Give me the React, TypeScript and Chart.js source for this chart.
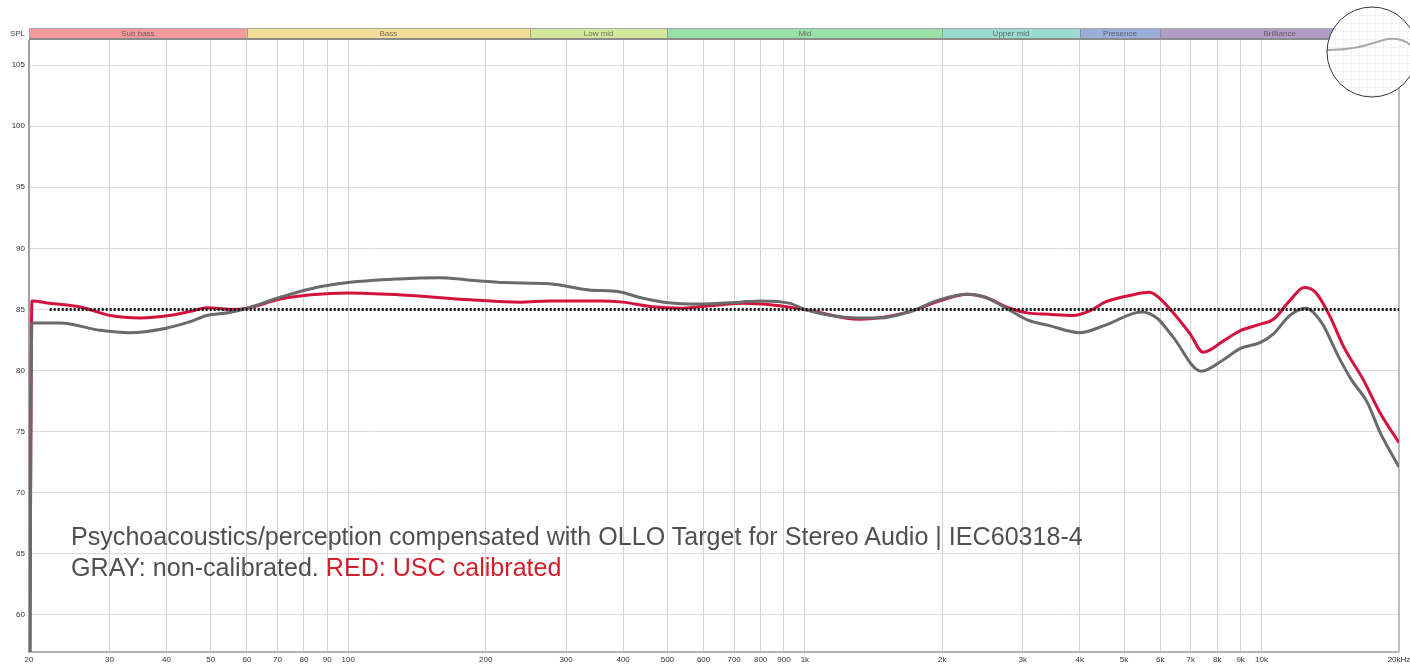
import React, { useEffect, useRef } from 'react';
import { Chart, registerables } from 'chart.js';
Chart.register(...registerables);

// ---- Data ----
const grayFreq = [20, 20.3, 23.4, 28.6, 33.2, 39.7, 45.1, 49, 55, 60, 71, 82.9, 100, 129, 158, 185, 221, 276, 337, 392, 433, 503, 586, 722, 797, 929, 1000, 1316, 1457, 1692, 1975, 2267, 2483, 2808, 3090, 3414, 4000, 4540, 5463, 5900, 6385, 7380, 8270, 8970, 9950, 10620, 11520, 12500, 13550, 14710, 15700, 17040, 18200, 20000];
const grayDb = [40, 83.9, 83.9, 83.3, 83.1, 83.45, 84.0, 84.5, 84.75, 85.1, 86.0, 86.7, 87.2, 87.5, 87.6, 87.4, 87.2, 87.1, 86.6, 86.45, 86.0, 85.55, 85.45, 85.6, 85.7, 85.5, 85.0, 84.3, 84.3, 84.8, 85.8, 86.25, 86.0, 84.95, 84.1, 83.7, 83.1, 83.7, 84.8, 84.3, 82.8, 79.95, 80.9, 81.8, 82.3, 83.0, 84.5, 85.1, 83.9, 81.2, 79.3, 77.4, 74.9, 72.1];

const redFreq = [20, 20.3, 22.2, 25.9, 30.1, 35.0, 40.6, 45.8, 49, 55.9, 60, 71, 82.9, 100, 129, 185, 238, 276, 359, 399, 458, 541, 617, 729, 858, 1000, 1316, 1692, 1975, 2267, 2483, 2808, 3090, 3414, 3868, 4216, 4540, 5230, 5675, 5900, 6385, 6963, 7450, 8270, 8970, 9950, 10620, 11520, 12400, 13130, 14050, 15200, 16620, 18200, 20000];
const redDb = [40, 85.7, 85.5, 85.2, 84.5, 84.3, 84.5, 84.9, 85.15, 85.0, 85.1, 85.85, 86.2, 86.35, 86.2, 85.8, 85.6, 85.7, 85.7, 85.6, 85.25, 85.1, 85.3, 85.5, 85.35, 85.0, 84.2, 84.8, 85.7, 86.25, 86.0, 85.1, 84.7, 84.6, 84.5, 84.9, 85.6, 86.2, 86.4, 86.1, 84.8, 83.05, 81.5, 82.45, 83.25, 83.8, 84.2, 85.7, 86.8, 86.4, 84.6, 81.8, 79.4, 76.5, 74.1];

const targetFreq = [22.2, 20000];
const targetDb = [85, 85];

const xTicks = [20, 30, 40, 50, 60, 70, 80, 90, 100, 200, 300, 400, 500, 600, 700, 800, 900, 1000, 2000, 3000, 4000, 5000, 6000, 7000, 8000, 9000, 10000, 20000];
const xTickLabels = ['20', '30', '40', '50', '60', '70', '80', '90', '100', '200', '300', '400', '500', '600', '700', '800', '900', '1k', '2k', '3k', '4k', '5k', '6k', '7k', '8k', '9k', '10k', '20kHz'];
const yTicks = [60, 65, 70, 75, 80, 85, 90, 95, 100, 105];

const bandEdges = [20, 60, 250, 500, 2000, 4000, 6000, 20000];
const bandNames = ['Sub bass', 'Bass', 'Low mid', 'Mid', 'Upper mid', 'Presence', 'Brilliance'];
const bandColors = ['#f59a9c', '#f4dd98', '#d4e89b', '#99e0a6', '#9adccf', '#9aaed8', '#b09cc7'];

const toPoints = (f: number[], v: number[]) => f.map((x, i) => ({ x, y: v[i] }));

const framePlugin = {
  id: 'frame',
  beforeDraw(chart: any) {
    const { ctx } = chart;
    ctx.save();
    ctx.fillStyle = '#ffffff';
    ctx.fillRect(0, 0, chart.width, chart.height);
    ctx.restore();
  },
  beforeDatasetsDraw(chart: any) {
    const { ctx, chartArea: a, scales } = chart;
    const xs = scales.x;
    ctx.save();
    // band strip
    const top = a.top - 11;
    const h = 9;
    ctx.font = '8px "Liberation Sans", Arial, sans-serif';
    ctx.textAlign = 'center';
    ctx.textBaseline = 'middle';
    for (let i = 0; i < bandNames.length; i++) {
      const x0 = xs.getPixelForValue(bandEdges[i]);
      const x1 = xs.getPixelForValue(bandEdges[i + 1]);
      ctx.fillStyle = bandColors[i];
      ctx.fillRect(x0, top, x1 - x0, h);
      ctx.strokeStyle = 'rgba(120,120,120,0.6)';
      ctx.lineWidth = 1;
      ctx.beginPath();
      ctx.moveTo(Math.round(x0) + 0.5, top);
      ctx.lineTo(Math.round(x0) + 0.5, top + h);
      ctx.stroke();
      ctx.fillStyle = 'rgba(70,70,70,0.75)';
      ctx.fillText(bandNames[i], (x0 + x1) / 2, top + h / 2 + 0.5);
    }
    ctx.strokeStyle = '#a8a8a8';
    ctx.lineWidth = 1;
    ctx.strokeRect(a.left + 0.5, top - 0.5, a.right - a.left, h + 1);
    // line under strip
    ctx.fillStyle = '#8c8c8c';
    ctx.fillRect(a.left, a.top - 2, a.right - a.left, 2);
    // SPL label
    ctx.fillStyle = '#444';
    ctx.textAlign = 'right';
    ctx.fillText('SPL', a.left - 4, top + h / 2);
    // plot frame
    ctx.fillStyle = '#a0a0a0';
    ctx.fillRect(a.left - 1, a.top, 2, a.bottom - a.top + 1);
    ctx.fillStyle = '#b4b4b4';
    ctx.fillRect(a.left, a.bottom - 1, a.right - a.left, 2);
    ctx.fillStyle = '#bdbdbd';
    ctx.fillRect(a.right - 1, a.top, 2, a.bottom - a.top);
    ctx.restore();
  },
  afterDraw(chart: any) {
    const { ctx } = chart;
    const cx = 1372, cy = 52, r = 45;
    ctx.save();
    ctx.beginPath();
    ctx.arc(cx, cy, r, 0, Math.PI * 2);
    ctx.fillStyle = '#ffffff';
    ctx.fill();
    ctx.save();
    ctx.clip();
    ctx.strokeStyle = '#f2f2f2';
    ctx.lineWidth = 1;
    for (let gx = cx - r; gx <= cx + r; gx += 8) {
      ctx.beginPath(); ctx.moveTo(Math.round(gx) + 0.5, cy - r); ctx.lineTo(Math.round(gx) + 0.5, cy + r); ctx.stroke();
    }
    for (let gy = cy - r; gy <= cy + r; gy += 8) {
      ctx.beginPath(); ctx.moveTo(cx - r, Math.round(gy) + 0.5); ctx.lineTo(cx + r, Math.round(gy) + 0.5); ctx.stroke();
    }
    ctx.strokeStyle = '#a9a9a9';
    ctx.lineWidth = 2;
    ctx.beginPath();
    ctx.moveTo(cx - r, cy - 2);
    ctx.bezierCurveTo(cx - 20, cy - 2, cx - 8, cy - 6, cx + 8, cy - 11);
    ctx.bezierCurveTo(cx + 20, cy - 15, cx + 30, cy - 14, cx + 40, cy - 6);
    ctx.stroke();
    ctx.restore();
    ctx.beginPath();
    ctx.arc(cx, cy, r, 0, Math.PI * 2);
    ctx.strokeStyle = '#333';
    ctx.lineWidth = 1;
    ctx.stroke();
    ctx.restore();
  },
};

export default function App() {
  const ref = useRef<HTMLCanvasElement | null>(null);

  useEffect(() => {
    const prevMargin = document.body.style.margin;
    document.body.style.margin = '0';
    const canvas = ref.current!;
    const tickFont = { family: '"Liberation Sans", Arial, sans-serif', size: 8 };
    const chart = new Chart(canvas, {
      type: 'line',
      data: {
        datasets: [
          {
            label: 'Target',
            data: toPoints(targetFreq, targetDb),
            borderColor: '#111111',
            borderWidth: 3,
            borderDash: [2, 2],
            pointRadius: 0,
            tension: 0,
          },
          {
            label: 'Non-calibrated',
            data: toPoints(grayFreq, grayDb),
            borderColor: '#6a6a6a',
            borderWidth: 3,
            pointRadius: 0,
            cubicInterpolationMode: 'monotone',
          },
          {
            label: 'USC calibrated',
            data: toPoints(redFreq, redDb),
            borderColor: '#d3123d',
            borderWidth: 3,
            pointRadius: 0,
            cubicInterpolationMode: 'monotone',
          },
        ],
      } as any,
      options: {
        responsive: false,
        animation: false,
        devicePixelRatio: 1,
        layout: { padding: { top: 40, right: 11, left: 0, bottom: 0 } },
        plugins: { legend: { display: false }, tooltip: { enabled: false }, title: { display: false } },
        scales: {
          x: {
            type: 'logarithmic',
            min: 20,
            max: 20000,
            afterBuildTicks: (s: any) => { s.ticks = xTicks.map((v) => ({ value: v })); },
            afterFit: (s: any) => { s.height = 12; s.paddingLeft = 0; s.paddingRight = 0; },
            ticks: {
              autoSkip: false,
              maxRotation: 0,
              minRotation: 0,
              padding: 3,
              color: '#333',
              font: tickFont,
              callback: (v: any) => xTickLabels[xTicks.indexOf(Number(v))] ?? '',
            },
            grid: { color: '#d2d2d2', lineWidth: 1, drawTicks: false },
            border: { display: false },
          },
          y: {
            type: 'linear',
            min: 56.97,
            max: 107.05,
            afterBuildTicks: (s: any) => { s.ticks = yTicks.map((v) => ({ value: v })); },
            afterFit: (s: any) => { s.width = 29; s.paddingTop = 0; s.paddingBottom = 0; },
            ticks: { padding: 4, color: '#333', font: tickFont, callback: (v: any) => String(v) },
            grid: { color: '#dcdcdc', lineWidth: 1, drawTicks: false },
            border: { display: false },
          },
        },
      } as any,
      plugins: [framePlugin],
    });
    return () => {
      chart.destroy();
      document.body.style.margin = prevMargin;
    };
  }, []);

  const textStyle: React.CSSProperties = {
    position: 'absolute',
    left: 71,
    fontFamily: '"Liberation Sans", Arial, sans-serif',
    fontWeight: 400,
    fontSize: 25.1,
    lineHeight: '25px',
    color: '#505050',
    whiteSpace: 'nowrap',
  };

  return (
    <div style={{ position: 'fixed', left: 0, top: 0, width: 1410, height: 664, overflow: 'hidden', background: '#fff' }}>
      <canvas ref={ref} width={1410} height={664} style={{ position: 'absolute', left: 0, top: 0, width: 1410, height: 664 }} />
      <div style={{ ...textStyle, top: 524 }}>
        Psychoacoustics/perception compensated with OLLO Target for Stereo Audio | IEC60318-4
      </div>
      <div style={{ ...textStyle, top: 555 }}>
        GRAY: non-calibrated. <span style={{ color: '#d41f2b' }}>RED: USC calibrated</span>
      </div>
    </div>
  );
}
